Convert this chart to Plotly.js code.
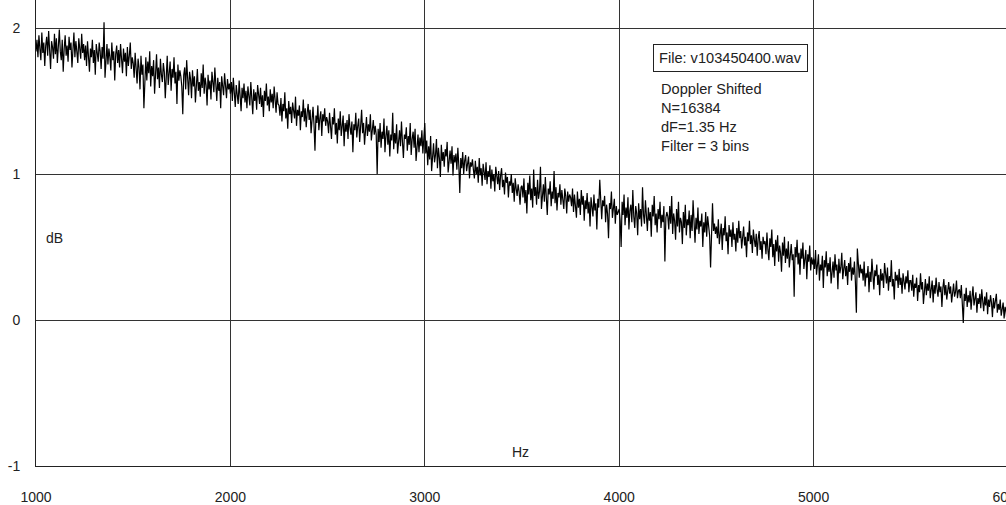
<!DOCTYPE html>
<html>
<head>
<meta charset="utf-8">
<script src="https://cdn.plot.ly/plotly-3.0.1.min.js"></script>
<style>
html,body{margin:0;padding:0;overflow:hidden;background:#fff;}
#chart{width:1040px;height:505px;}
</style>
</head>
<body>
<div id="chart"></div>
<script>
const freqStart = 1000;
const freqStep = 5;
const dbValues = [
 1.84,1.92,1.80,1.95,1.86,1.78,1.97,1.83,1.90,1.74,1.88,1.94,1.81,1.98,1.85,1.72,1.91,1.87,1.79,1.96,
 1.82,1.93,1.76,1.89,1.99,1.84,1.78,1.92,1.70,1.86,1.95,1.81,1.88,1.77,1.94,1.85,1.90,1.73,1.87,1.97,
 1.80,1.91,1.84,1.76,1.93,1.86,1.79,1.96,1.83,1.89,
 1.78,1.88,1.74,1.91,1.83,1.70,1.86,1.80,1.92,1.76,1.85,1.68,1.89,1.81,1.77,1.90,1.84,1.72,1.87,1.79,
 2.04,1.66,1.83,1.89,1.75,1.86,1.80,1.71,1.90,1.78,1.84,1.64,1.82,1.88,1.76,1.85,1.73,1.89,1.79,1.69,
 1.86,1.77,1.83,1.67,1.87,1.74,1.81,1.90,1.72,1.80,
 1.76,1.66,1.83,1.70,1.62,1.79,1.73,1.58,1.81,1.68,1.75,1.45,1.72,1.80,1.64,1.77,1.69,1.84,1.60,1.74,
 1.67,1.78,1.55,1.71,1.82,1.65,1.73,1.59,1.79,1.68,1.63,1.76,1.70,1.52,1.74,1.81,1.61,1.69,1.77,1.57,
 1.72,1.66,1.80,1.62,1.70,1.48,1.75,1.64,1.71,1.67,
 1.60,1.41,1.68,1.73,1.58,1.78,1.62,1.54,1.70,1.65,1.52,1.71,1.60,1.67,1.49,1.64,1.72,1.57,1.63,1.53,
 1.69,1.59,1.75,1.55,1.66,1.61,1.47,1.68,1.58,1.64,1.51,1.70,1.62,1.56,1.73,1.60,1.50,1.66,1.57,1.63,
 1.45,1.67,1.59,1.54,1.69,1.61,1.52,1.65,1.58,1.62,
 1.55,1.63,1.50,1.66,1.58,1.46,1.61,1.54,1.48,1.64,1.56,1.43,1.59,1.52,1.62,1.49,1.57,1.45,1.60,1.53,
 1.47,1.63,1.55,1.41,1.58,1.50,1.56,1.44,1.61,1.52,1.48,1.59,1.46,1.54,1.39,1.57,1.50,1.62,1.47,1.53,
 1.43,1.58,1.49,1.55,1.45,1.60,1.51,1.42,1.56,1.48,
 1.47,1.40,1.52,1.36,1.48,1.43,1.56,1.38,1.45,1.31,1.50,1.41,1.46,1.35,1.49,1.42,1.38,1.53,1.33,1.44,
 1.40,1.47,1.30,1.43,1.39,1.51,1.36,1.45,1.32,1.42,1.48,1.37,1.44,1.28,1.41,1.46,1.34,1.16,1.40,1.35,
 1.47,1.30,1.38,1.43,1.26,1.41,1.36,1.45,1.33,1.39,
 1.36,1.28,1.42,1.31,1.24,1.39,1.34,1.45,1.27,1.35,1.21,1.38,1.30,1.43,1.26,1.33,1.40,1.19,1.35,1.29,
 1.37,1.24,1.41,1.32,1.27,1.36,1.15,1.34,1.30,1.42,1.25,1.33,1.38,1.22,1.31,1.44,1.28,1.35,1.20,1.32,
 1.39,1.26,1.34,1.29,1.41,1.23,1.31,1.37,1.27,1.33,
 1.27,1.00,1.31,1.22,1.35,1.18,1.29,1.24,1.38,1.15,1.26,1.33,1.20,1.30,1.12,1.27,1.23,1.42,1.17,1.28,
 1.21,1.34,1.14,1.25,1.30,1.19,1.36,1.22,1.11,1.27,1.24,1.32,1.16,1.26,1.20,1.35,1.13,1.24,1.29,1.18,
 1.31,1.09,1.22,1.27,1.15,1.25,1.19,1.30,1.14,1.23,
 1.35,1.14,1.23,1.06,1.19,1.10,1.26,1.02,1.16,1.21,1.08,1.13,1.24,1.04,1.18,1.11,0.98,1.20,1.09,1.15,
 1.05,1.17,1.12,1.22,1.01,1.10,1.16,1.07,1.19,0.99,1.13,1.08,1.14,1.03,1.18,1.06,0.87,1.11,1.04,1.15,
 1.00,1.09,1.13,1.02,1.07,1.12,0.97,1.08,1.05,1.10,
 1.03,0.97,1.09,1.00,1.05,0.94,1.11,0.99,1.04,0.92,1.07,1.01,0.96,1.08,0.93,1.02,0.98,1.06,0.90,1.03,
 0.95,1.00,0.88,1.05,0.97,0.93,1.02,0.89,0.99,1.04,0.91,0.96,0.86,1.01,0.94,0.98,0.84,0.95,0.92,1.00,
 0.87,0.94,0.81,0.97,0.90,0.85,0.93,0.88,0.79,0.91,
 0.92,0.84,0.97,0.80,0.89,0.73,0.94,0.86,0.99,0.82,0.90,0.77,1.03,0.85,0.91,0.79,0.96,0.83,0.88,1.05,
 0.76,0.87,0.93,0.81,0.98,0.84,0.72,0.90,0.86,0.95,0.78,0.88,0.83,1.02,0.80,0.91,0.75,0.87,0.84,0.93,
 0.79,0.89,0.82,0.76,0.90,0.85,0.73,0.88,0.81,0.86,
 0.84,0.78,0.90,0.74,0.86,0.80,0.70,0.88,0.77,0.83,0.72,0.89,0.79,0.85,0.68,0.82,0.76,0.87,0.73,0.81,
 0.64,0.84,0.78,0.71,0.86,0.75,0.80,0.62,0.83,0.77,0.96,0.74,0.69,0.82,0.78,0.85,0.67,0.79,0.73,0.56,
 0.80,0.76,0.88,0.70,0.77,0.83,0.66,0.78,0.72,0.75,
 0.76,0.68,0.50,0.81,0.72,0.86,0.65,0.77,0.70,0.84,0.62,0.75,0.79,0.67,0.89,0.71,0.63,0.78,0.73,0.58,
 0.80,0.69,0.76,0.64,0.91,0.72,0.66,0.82,0.70,0.61,0.77,0.68,0.74,0.57,0.79,0.71,0.85,0.65,0.73,0.60,
 0.76,0.69,0.81,0.63,0.72,0.67,0.78,0.40,0.70,0.74,
 0.71,0.62,0.78,0.66,0.85,0.59,0.73,0.68,0.55,0.76,0.64,0.81,0.60,0.70,0.67,0.52,0.74,0.63,0.79,0.58,
 0.69,0.65,0.75,0.56,0.72,0.61,0.82,0.66,0.53,0.70,0.62,0.77,0.59,0.68,0.64,0.73,0.50,0.67,0.60,0.74,
 0.57,0.71,0.63,0.58,0.36,0.69,0.80,0.61,0.66,0.59,
 0.64,0.56,0.69,0.52,0.61,0.66,0.48,0.63,0.58,0.71,0.54,0.60,0.45,0.65,0.57,0.62,0.50,0.67,0.55,0.59,
 0.47,0.63,0.53,0.68,0.56,0.61,0.49,0.58,0.64,0.51,0.57,0.43,0.60,0.54,0.68,0.52,0.58,0.46,0.62,0.55,
 0.50,0.59,0.44,0.56,0.61,0.48,0.54,0.42,0.57,0.52,
 0.54,0.45,0.60,0.48,0.41,0.56,0.50,0.62,0.43,0.52,0.37,0.55,0.47,0.58,0.40,0.51,0.46,0.33,0.53,0.44,
 0.57,0.39,0.49,0.42,0.54,0.36,0.48,0.52,0.41,0.45,0.16,0.50,0.43,0.55,0.38,0.46,0.31,0.49,0.42,0.53,
 0.35,0.44,0.48,0.28,0.45,0.40,0.51,0.34,0.43,0.38,
 0.42,0.35,0.48,0.31,0.40,0.45,0.27,0.38,0.34,0.44,0.22,0.41,0.36,0.47,0.30,0.39,0.33,0.43,0.25,0.37,
 0.40,0.29,0.45,0.34,0.38,0.21,0.42,0.32,0.36,0.46,0.28,0.35,0.41,0.30,0.37,0.24,0.39,0.33,0.43,0.27,
 0.36,0.31,0.40,0.26,0.05,0.49,0.34,0.29,0.38,0.32,
 0.35,0.27,0.40,0.23,0.32,0.29,0.37,0.19,0.33,0.26,0.42,0.28,0.21,0.34,0.30,0.38,0.24,0.31,0.17,0.35,
 0.27,0.32,0.22,0.39,0.29,0.25,0.36,0.20,0.30,0.26,0.41,0.23,0.28,0.14,0.33,0.27,0.31,0.22,0.35,0.24,
 0.29,0.18,0.32,0.26,0.21,0.30,0.25,0.34,0.19,0.27,
 0.27,0.20,0.31,0.16,0.25,0.22,0.29,0.13,0.24,0.19,0.32,0.21,0.26,0.11,0.23,0.28,0.17,0.25,0.20,0.30,
 0.15,0.22,0.27,0.12,0.24,0.18,0.29,0.21,0.16,0.26,0.19,0.23,0.09,0.22,0.28,0.17,0.24,0.14,0.20,0.26,
 0.18,0.23,0.12,0.21,0.25,0.16,0.19,0.27,0.15,0.20,
 0.21,0.15,0.24,0.11,-0.02,0.18,0.13,0.22,0.09,0.17,0.12,0.20,0.07,0.16,0.23,0.10,0.14,0.19,0.05,0.15,
 0.11,0.18,0.08,0.21,0.13,0.06,0.16,0.10,0.19,0.04,0.14,0.09,0.17,0.12,0.02,0.15,0.08,0.13,0.18,0.05,
 0.11,0.07,0.14,0.03,0.10,0.12,0.01,0.09,0.06,-0.04,
 -0.10
];
const xTicks = [1000, 2000, 3000, 4000, 5000, 6000];
const xTickLabels = ['1000', '2000', '3000', '4000', '5000', '6000'];
const yTicks = [-1, 0, 1, 2];
const yTickLabels = ['-1', '0', '1', '2'];
const infoBoxText = 'File: v103450400.wav';
const infoLines = ['Doppler Shifted', 'N=16384', 'dF=1.35 Hz', 'Filter = 3 bins'];

const font = {family: 'Liberation Sans, Arial, Helvetica, sans-serif', size: 14, color: '#222'};
const infoFont = {family: 'Liberation Sans, Arial, Helvetica, sans-serif', size: 14.6, color: '#222'};

const trace = {
  type: 'scatter',
  mode: 'lines',
  x0: freqStart,
  dx: freqStep,
  y: dbValues,
  line: {color: '#000', width: 1.2},
  hoverinfo: 'skip',
  showlegend: false
};

const layout = {
  width: 1040,
  height: 505,
  margin: {l: 36, r: 32, t: 0, b: 39, pad: 0},
  paper_bgcolor: '#fff',
  plot_bgcolor: '#fff',
  font: font,
  showlegend: false,
  xaxis: {
    range: [1000, 6000],
    tickvals: xTicks,
    ticktext: xTickLabels,
    showgrid: true,
    gridcolor: '#333',
    gridwidth: 1,
    showline: true,
    linecolor: '#222',
    linewidth: 1,
    zeroline: false,
    ticks: '',
    ticklabelstandoff: 18,
    tickfont: font
  },
  yaxis: {
    range: [-1, 2.192],
    tickvals: yTicks,
    ticktext: yTickLabels,
    showgrid: true,
    gridcolor: '#333',
    gridwidth: 1,
    showline: true,
    linecolor: '#222',
    linewidth: 1,
    zeroline: false,
    ticks: '',
    ticklabelstandoff: 12,
    tickfont: font
  },
  annotations: [
    {xref: 'paper', yref: 'paper', x: 0.635, y: 0.906, xanchor: 'left', yanchor: 'top',
     text: infoBoxText, showarrow: false, font: infoFont, bordercolor: '#222', borderwidth: 1,
     borderpad: 5, bgcolor: '#fff', align: 'left'},
    {xref: 'paper', yref: 'paper', x: 0.641, y: 0.830, xanchor: 'left', yanchor: 'top',
     text: infoLines.join('<br>'), showarrow: false, font: infoFont, align: 'left'},
    {xref: 'paper', yref: 'paper', x: 0.019, y: 0.489, xanchor: 'center', yanchor: 'middle',
     text: 'dB', showarrow: false, font: font},
    {xref: 'paper', yref: 'paper', x: 0.4985, y: 0.0290, xanchor: 'center', yanchor: 'middle',
     text: 'Hz', showarrow: false, font: font}
  ]
};

Plotly.newPlot('chart', [trace], layout, {staticPlot: true, displayModeBar: false});
</script>
</body>
</html>
